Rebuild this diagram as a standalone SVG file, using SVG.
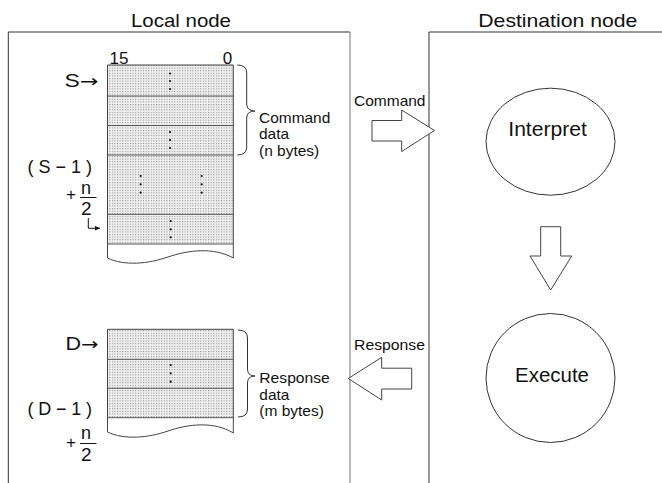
<svg xmlns="http://www.w3.org/2000/svg" width="662" height="483" viewBox="0 0 662 483">
<style>
text{font-family:"Liberation Sans",Arial,Helvetica,sans-serif;fill:#111}
.t{font-size:18.5px}
.l{font-size:14.5px}
.c{font-size:19.5px}
.m{font-size:19px}
.f{font-size:18px}
.ar{font-family:"DejaVu Sans",sans-serif}
.frame{fill:none;stroke:#333;stroke-width:1}
.frameg{fill:none;stroke:#8a8a8a;stroke-width:1.2}
.blk{fill:url(#dots);stroke:none}
.out{fill:none;stroke:#444;stroke-width:1}
.row{stroke:#555;stroke-width:1}
.dot{fill:#111}
.brace{fill:none;stroke:#333;stroke-width:1}
.arr{fill:#fff;stroke:#444;stroke-width:1;stroke-linejoin:miter}
.ell{fill:#fff;stroke:#333;stroke-width:1}
</style>
<defs>
<pattern id="dots" width="2.6" height="2.6" patternUnits="userSpaceOnUse">
<rect width="2.6" height="2.6" fill="#f2f2f2"/>
<rect x="0" y="0" width="1.1" height="1.1" fill="#8c8c8c"/>
</pattern>
<marker id="ah" markerWidth="6" markerHeight="6" refX="5" refY="3" orient="auto" markerUnits="userSpaceOnUse">
<path d="M0,0.8 L5,3 L0,5.2 Z" fill="#111"/>
</marker>
</defs>
<rect width="662" height="483" fill="#fff"/>

<g id="local-node">
<path class="frame" d="M8.3,483 V32 H350"/>
<path class="frameg" d="M350,32 V483"/>
<text class="t" x="131" y="26.5" textLength="100" lengthAdjust="spacingAndGlyphs">Local node</text>
</g>

<g id="destination-node">
<path class="frame" d="M429,483 V32 H662"/>
<text class="t" x="478.3" y="26.5" textLength="159" lengthAdjust="spacingAndGlyphs">Destination node</text>
</g>

<g id="command-data">
<rect class="blk" x="107.5" y="65" width="125.8" height="179"/>
<path class="out" d="M107.5,258 V65 H233.3 V258"/>
<path class="out" d="M107.5,258 C124,266 148,264 168,257 S214,247 233.3,258"/>
<g class="row">
<line x1="107.5" y1="96" x2="233.3" y2="96"/>
<line x1="107.5" y1="125.5" x2="233.3" y2="125.5"/>
<line x1="107.5" y1="155" x2="233.3" y2="155"/>
<line x1="107.5" y1="214.3" x2="233.3" y2="214.3"/>
<line x1="107.5" y1="244" x2="233.3" y2="244"/>
</g>
<g class="dot">
<circle cx="170" cy="73.5" r="1.1"/><circle cx="170" cy="81" r="1.1"/><circle cx="170" cy="89" r="1.1"/>
<circle cx="170" cy="132" r="1.1"/><circle cx="170" cy="140" r="1.1"/><circle cx="170" cy="148" r="1.1"/>
<circle cx="140.7" cy="176" r="1.1"/><circle cx="140.7" cy="184.3" r="1.1"/><circle cx="140.7" cy="192.7" r="1.1"/>
<circle cx="201.7" cy="176" r="1.1"/><circle cx="201.7" cy="184.3" r="1.1"/><circle cx="201.7" cy="192.7" r="1.1"/>
<circle cx="170.7" cy="221" r="1.1"/><circle cx="170.7" cy="229.3" r="1.1"/><circle cx="170.7" cy="237.3" r="1.1"/>
</g>
<text x="109.5" y="63.5" style="font-size:17px" textLength="19" lengthAdjust="spacingAndGlyphs">15</text>
<text x="222.8" y="63.5" style="font-size:17px">0</text>
<text x="64.5" y="87" style="font-size:17.5px" textLength="34" lengthAdjust="spacingAndGlyphs">S<tspan class="ar" style="font-size:17px">→</tspan></text>
<text x="27.5" y="173" style="font-size:18px" textLength="64.5" lengthAdjust="spacing">(S−1)</text>
<text x="66" y="200" style="font-size:17px">+</text>
<text class="f" x="81" y="193.5">n</text>
<line x1="80" y1="197.5" x2="96.5" y2="197.5" stroke="#111" stroke-width="1"/>
<text class="m" x="81" y="214.5">2</text>
<path d="M88.3,218 V228.3 H100" fill="none" stroke="#111" stroke-width="1" marker-end="url(#ah)"/>
<path class="brace" d="M237.3,65 Q246.7,65 246.7,73 V104 Q246.7,111 255,111 Q246.7,111 246.7,118 V147 Q246.7,155 237.3,155"/>
<text class="l" x="259" y="122.5" textLength="71.3" lengthAdjust="spacingAndGlyphs">Command</text>
<text class="l" x="259" y="139" textLength="30.1" lengthAdjust="spacingAndGlyphs">data</text>
<text class="l" x="259" y="155.5" textLength="60.2" lengthAdjust="spacingAndGlyphs">(n bytes)</text>
</g>

<g id="response-data">
<rect class="blk" x="107.5" y="329.3" width="125.8" height="88.4"/>
<path class="out" d="M107.5,432 V329.3 H233.3 V433"/>
<path class="out" d="M107.5,432 C124,440 148,438 168,431 S214,421 233.3,433"/>
<g class="row">
<line x1="107.5" y1="359.3" x2="233.3" y2="359.3"/>
<line x1="107.5" y1="388.3" x2="233.3" y2="388.3"/>
<line x1="107.5" y1="417.7" x2="233.3" y2="417.7"/>
</g>
<g class="dot">
<circle cx="170.7" cy="365" r="1.1"/><circle cx="170.7" cy="373.3" r="1.1"/><circle cx="170.7" cy="381.7" r="1.1"/>
</g>
<text x="65.5" y="349.5" style="font-size:17.5px" textLength="33" lengthAdjust="spacingAndGlyphs">D<tspan class="ar" style="font-size:17px">→</tspan></text>
<text x="27.5" y="415" style="font-size:18px" textLength="64.5" lengthAdjust="spacing">(D−1)</text>
<text x="66" y="448" style="font-size:17px">+</text>
<text class="f" x="81" y="439">n</text>
<line x1="80" y1="443.5" x2="96.5" y2="443.5" stroke="#111" stroke-width="1"/>
<text class="m" x="81" y="460.5">2</text>
<path class="brace" d="M238,330 Q247.5,330 247.5,338 V369 Q247.5,376 255,376 Q247.5,376 247.5,383 V409 Q247.5,417 238,417"/>
<text class="l" x="259.3" y="383" textLength="70.5" lengthAdjust="spacingAndGlyphs">Response</text>
<text class="l" x="259.3" y="399.5" textLength="30.1" lengthAdjust="spacingAndGlyphs">data</text>
<text class="l" x="259.3" y="416" textLength="64.5" lengthAdjust="spacingAndGlyphs">(m bytes)</text>
</g>

<g id="interpret">
<ellipse class="ell" cx="550.5" cy="141.7" rx="64.5" ry="53.5"/>
<text class="c" x="508.3" y="135.5" textLength="78.5" lengthAdjust="spacingAndGlyphs">Interpret</text>
</g>

<g id="execute">
<circle class="ell" cx="550.5" cy="378" r="64.5"/>
<text class="c" x="515" y="382" textLength="74" lengthAdjust="spacingAndGlyphs">Execute</text>
</g>

<g id="connectors">
<polygon class="arr" points="372,120.5 401.7,120.5 401.7,110 434.5,130.5 401.7,151.5 401.7,141 372,141"/>
<text class="l" x="354" y="105.5" textLength="71.5" lengthAdjust="spacingAndGlyphs">Command</text>
<polygon class="arr" points="540.7,226.7 560.7,226.7 560.7,256 571.7,256 550.7,290 530,256 540.7,256"/>
<polygon class="arr" points="411.7,368.2 381.7,368.2 381.7,357.3 348.3,378.5 381.7,400 381.7,389 411.7,389"/>
<text class="l" x="354" y="349.5" textLength="71" lengthAdjust="spacingAndGlyphs">Response</text>
</g>
</svg>
